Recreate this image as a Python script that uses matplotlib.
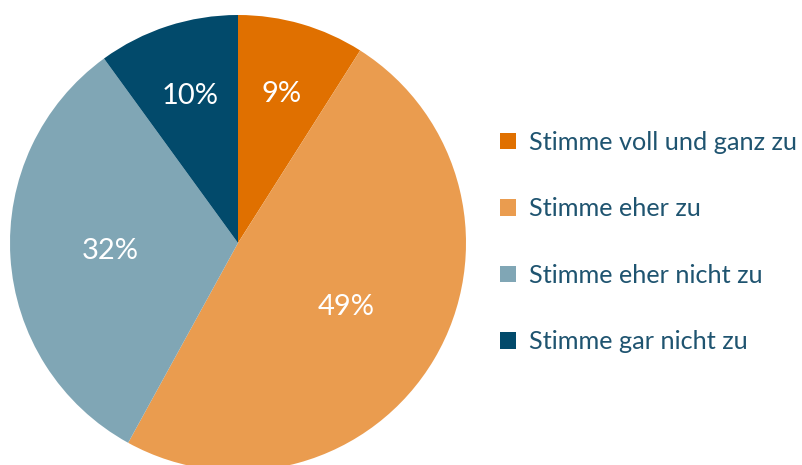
import matplotlib
matplotlib.use("Agg")
import matplotlib.pyplot as plt
import numpy as np

categories = ["Stimme voll und ganz zu", "Stimme eher zu", "Stimme eher nicht zu", "Stimme gar nicht zu"]
values = [9, 49, 32, 10]
pct_labels = ["9%", "49%", "32%", "10%"]
colors = ["#E07000", "#EA9C4F", "#80A6B5", "#024A6B"]
label_dist = [0.68, 0.55, 0.56, 0.68]

W, H = 802, 465
fig = plt.figure(figsize=(W / 100, H / 100), dpi=100)
ax = fig.add_axes([0, 0, 1, 1])

cx, cy, R = 238, H - 243, 228
wedges, _ = ax.pie(values, colors=colors, startangle=90, counterclock=False,
                   center=(cx, cy), radius=R, frame=True,
                   wedgeprops=dict(linewidth=0))
ax.set_xlim(0, W)
ax.set_ylim(0, H)
ax.set_aspect("equal")
ax.axis("off")

font = "Lato"
for w, lab, d in zip(wedges, pct_labels, label_dist):
    ang = np.deg2rad((w.theta1 + w.theta2) / 2)
    ax.text(cx + d * R * np.cos(ang), cy + d * R * np.sin(ang), lab,
            ha="center", va="center", color="white", fontsize=21, family=font)

fs = 18.2
leg = ax.legend(wedges, categories, loc="upper left", bbox_to_anchor=(500 / W, 1 - 131 / H),
                frameon=False, borderpad=0, borderaxespad=0,
                handlelength=0.63, handleheight=0.63,
                handletextpad=0.52, labelspacing=1.72, prop={"family": font, "size": fs})
for t in leg.get_texts():
    t.set_color("#1F5470")

fig.savefig("out.png", dpi=100)
